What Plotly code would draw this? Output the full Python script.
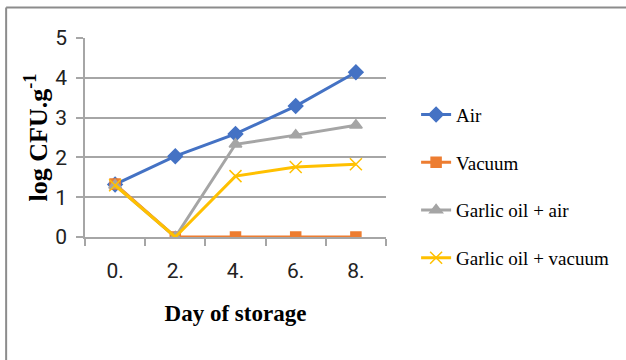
import plotly.graph_objects as go

# Storage days and bacterial counts (log CFU per gram)
days = [0, 2, 4, 6, 8]
day_labels = ["0.", "2.", "4.", "6.", "8."]
air = [1.32, 2.03, 2.59, 3.29, 4.14]
vacuum = [1.33, 0.0, 0.0, 0.0, 0.0]
garlic_air = [1.30, 0.0, 2.33, 2.56, 2.81]
garlic_vacuum = [1.30, 0.0, 1.53, 1.76, 1.83]

series = [
    ("Air", air, "#4472C4", "diamond", 11),
    ("Vacuum", vacuum, "#ED7D31", "square", 10),
    ("Garlic oil + air", garlic_air, "#A5A5A5", "triangle-up", 11),
    ("Garlic oil + vacuum", garlic_vacuum, "#FFC000", "x-thin-open", 12),
]

num_font = "Roboto, sans-serif"
serif = "Liberation Serif, Times New Roman, serif"

fig = go.Figure()
for name, vals, color, sym, size in series:
    fig.add_trace(go.Scatter(
        x=days, y=vals, name=name, mode="lines+markers",
        legendgroup=name,
        line=dict(color=color, width=3),
        marker=dict(symbol=sym, size=size, color=color,
                    line=dict(color=color, width=1.5)),
    ))

# invisible trace carrying the category boundary ticks
fig.add_trace(go.Scatter(x=[-1, 9], y=[0, 0], xaxis="x2", mode="none",
                         showlegend=False, hoverinfo="skip"))

grid = "#A6A6A6"
fig.update_layout(
    width=626, height=360,
    margin=dict(l=85, r=238, t=38, b=123),
    paper_bgcolor="white", plot_bgcolor="white",
    showlegend=True,
    legend=dict(x=1.10, xanchor="left", y=0.71, yanchor="top",
                font=dict(family=serif, size=19, color="#000"),
                traceorder="grouped", tracegroupgap=20,
                itemwidth=30, bgcolor="rgba(0,0,0,0)"),
    xaxis=dict(range=[-1, 9], tickvals=days, ticktext=day_labels,
               showgrid=False, zeroline=False, showline=False, ticks="",
               tickfont=dict(family=num_font, size=21, color="#222"),
               ticklabelstandoff=19,
               title=dict(text="<b>Day of storage</b>",
                          font=dict(family=serif, size=23, color="#000"),
                          standoff=22)),
    xaxis2=dict(range=[-1, 9], overlaying="x", anchor="y",
                tickvals=[-1, 1, 3, 5, 7, 9], ticks="outside", ticklen=7,
                tickcolor=grid, tickwidth=1.5, showticklabels=False,
                showgrid=False, zeroline=False, showline=True,
                linecolor=grid, linewidth=1.5, side="bottom"),
    yaxis=dict(range=[0, 5], dtick=1, showgrid=True, gridcolor=grid,
               gridwidth=1.5, zeroline=False, showline=True,
               linecolor=grid, linewidth=1.5,
               ticks="outside", ticklen=7, tickcolor=grid, tickwidth=1.5,
               tickfont=dict(family=num_font, size=21, color="#222"),
               ticklabelstandoff=5,
               title=dict(text="<b>log CFU.g<sup>-1</sup></b>",
                          font=dict(family=serif, size=26, color="#000"),
                          standoff=0)),
)

# outer frame lines (top and left edges of the chart area)
frame = dict(color="#8C8C8C", width=2)
fig.add_shape(type="line", xref="paper", yref="paper",
              x0=-0.262, x1=1.80, y0=1.153, y1=1.153, line=frame)
fig.add_shape(type="line", xref="paper", yref="paper",
              x0=-0.262, x1=-0.262, y0=1.153, y1=-0.65, line=frame)

fig.write_html("out.html")
